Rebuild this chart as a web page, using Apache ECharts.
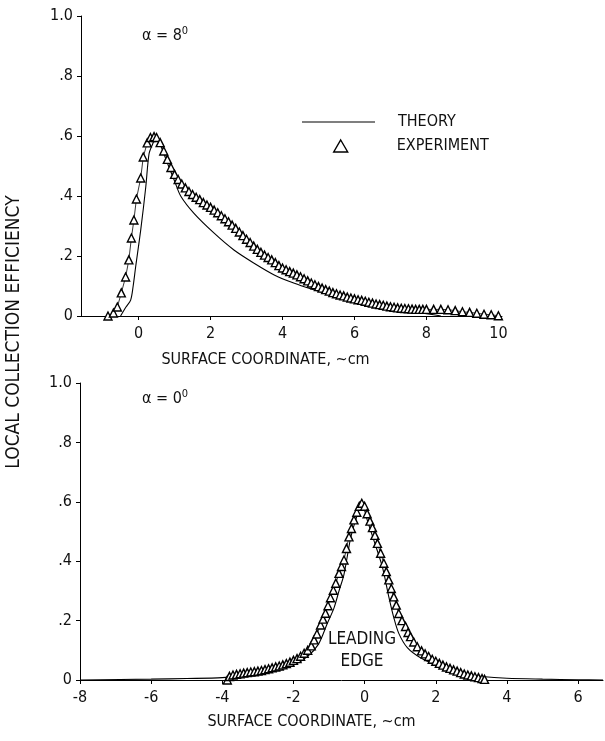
<!DOCTYPE html>
<html>
<head>
<meta charset="utf-8">
<script src="https://cdn.jsdelivr.net/npm/echarts@6/dist/echarts.min.js"></script>
<style>
html,body{margin:0;padding:0;background:#fff;}
#c{width:605px;height:741px;}
</style>
</head>
<body>
<div id="c"></div>
<script>
// ---------- DATA ----------
const topTickLabels = [0, 2, 4, 6, 8, 10];
const bottomTickLabels = [-8, -6, -4, -2, 0, 2, 4, 6];
const yTickLabels = ['0', '.2', '.4', '.6', '.8', '1.0'];

// alpha = 8 deg : theory (line)
const topTheory = [
  [-0.5, 0], [-0.35, 0.03], [-0.22, 0.053], [-0.15, 0.1], [-0.08, 0.165], [0.06, 0.287],
  [0.2, 0.43], [0.29, 0.54], [0.38, 0.57], [0.47, 0.59], [0.55, 0.585], [0.8, 0.51],
  [1.0, 0.45], [1.17, 0.4], [1.54, 0.342], [2.1, 0.276], [2.65, 0.22], [3.21, 0.176],
  [3.77, 0.137], [4.33, 0.109], [4.8, 0.09], [5.3, 0.072], [5.8, 0.058], [6.3, 0.045],
  [6.8, 0.033], [7.3, 0.022], [7.8, 0.012], [8.2, 0.004], [8.4, 0]
];
// alpha = 8 deg : experiment (triangles)
const topExperiment = [
  [-0.85, 0], [-0.7, 0.01], [-0.59, 0.03], [-0.48, 0.077], [-0.36, 0.13], [-0.27, 0.187],
  [-0.2, 0.26], [-0.13, 0.32], [-0.06, 0.39], [0.06, 0.46], [0.13, 0.53], [0.24, 0.577],
  [0.33, 0.595], [0.43, 0.598], [0.5, 0.595], [0.6, 0.578], [0.7, 0.55], [0.8, 0.522],
  [0.9, 0.495], [1.0, 0.472], [1.1, 0.455], [1.2, 0.44], [1.3, 0.427], [1.4, 0.415],
  [1.5, 0.405], [1.6, 0.396], [1.7, 0.388], [1.8, 0.378], [1.9, 0.37], [2.0, 0.362],
  [2.1, 0.353], [2.2, 0.344], [2.3, 0.334], [2.4, 0.324], [2.5, 0.314], [2.6, 0.303],
  [2.7, 0.292], [2.8, 0.28], [2.9, 0.268], [3.0, 0.256], [3.1, 0.245], [3.2, 0.233],
  [3.3, 0.222], [3.4, 0.212], [3.5, 0.203], [3.6, 0.195], [3.7, 0.187], [3.8, 0.178],
  [3.9, 0.168], [4.0, 0.16], [4.1, 0.154], [4.2, 0.148], [4.3, 0.143], [4.4, 0.137],
  [4.5, 0.131], [4.6, 0.124], [4.7, 0.117], [4.8, 0.11], [4.9, 0.104], [5.0, 0.098],
  [5.1, 0.093], [5.2, 0.088], [5.3, 0.083], [5.4, 0.078], [5.5, 0.074], [5.6, 0.07],
  [5.7, 0.067], [5.8, 0.063], [5.9, 0.06], [6.0, 0.057], [6.1, 0.054], [6.2, 0.052],
  [6.3, 0.049], [6.4, 0.046], [6.5, 0.043], [6.6, 0.04], [6.7, 0.038], [6.8, 0.036],
  [6.9, 0.033], [7.0, 0.031], [7.1, 0.029], [7.2, 0.027], [7.3, 0.026], [7.4, 0.025],
  [7.5, 0.024], [7.6, 0.023], [7.7, 0.022], [7.8, 0.022], [7.9, 0.022], [8.0, 0.022],
  [8.2, 0.022], [8.4, 0.022], [8.6, 0.021], [8.8, 0.018], [9.0, 0.014], [9.2, 0.012],
  [9.4, 0.009], [9.6, 0.006], [9.8, 0.004], [10.0, 0.001]
];
// alpha = 0 deg : theory (line)
const bottomTheory = [
  [-8, 0], [-6, 0.003], [-5, 0.005], [-4, 0.008], [-3, 0.018], [-2.5, 0.03], [-2.0, 0.05],
  [-1.6, 0.08], [-1.3, 0.12], [-1.05, 0.19], [-0.86, 0.243], [-0.72, 0.3], [-0.58, 0.356],
  [-0.39, 0.48], [-0.25, 0.539], [-0.11, 0.58], [0.0, 0.57], [0.07, 0.54], [0.26, 0.47],
  [0.5, 0.38], [0.68, 0.28], [0.82, 0.21], [0.96, 0.157], [1.2, 0.109], [1.57, 0.075],
  [2.04, 0.05], [2.7, 0.022], [3.3, 0.012], [4.0, 0.006], [5.0, 0.003], [6.0, 0.001], [6.7, 0]
];
// alpha = 0 deg : experiment (triangles)
const bottomExperiment = [
  [-3.86, 0.0], [-3.8, 0.012], [-3.7, 0.017], [-3.6, 0.019], [-3.5, 0.021], [-3.4, 0.023],
  [-3.3, 0.025], [-3.2, 0.027], [-3.1, 0.028], [-3.0, 0.03], [-2.9, 0.032], [-2.8, 0.035],
  [-2.7, 0.038], [-2.6, 0.041], [-2.5, 0.044], [-2.4, 0.047], [-2.3, 0.051], [-2.2, 0.055],
  [-2.1, 0.06], [-2.0, 0.066], [-1.9, 0.072], [-1.8, 0.08], [-1.7, 0.09], [-1.6, 0.1],
  [-1.5, 0.115], [-1.42, 0.135], [-1.34, 0.155], [-1.24, 0.185], [-1.17, 0.205], [-1.1, 0.225],
  [-1.03, 0.25], [-0.96, 0.277], [-0.88, 0.302], [-0.81, 0.326], [-0.72, 0.359], [-0.65, 0.382],
  [-0.58, 0.404], [-0.51, 0.443], [-0.44, 0.482], [-0.37, 0.51], [-0.3, 0.539], [-0.22, 0.565],
  [-0.15, 0.585], [-0.08, 0.595], [0.0, 0.585], [0.07, 0.56], [0.15, 0.535], [0.22, 0.513],
  [0.29, 0.487], [0.36, 0.46], [0.45, 0.427], [0.54, 0.393], [0.61, 0.365], [0.68, 0.337],
  [0.75, 0.308], [0.82, 0.28], [0.89, 0.252], [0.96, 0.224], [1.05, 0.2], [1.15, 0.18],
  [1.22, 0.16], [1.29, 0.146], [1.38, 0.128], [1.48, 0.112], [1.6, 0.098], [1.7, 0.088],
  [1.8, 0.079], [1.9, 0.07], [2.0, 0.063], [2.1, 0.056], [2.2, 0.05], [2.3, 0.044],
  [2.4, 0.039], [2.5, 0.034], [2.6, 0.03], [2.7, 0.025], [2.8, 0.02], [2.9, 0.017],
  [3.0, 0.014], [3.1, 0.011], [3.2, 0.008], [3.3, 0.005], [3.37, 0.002]
];

// ---------- CHART ----------
const FONT = "'Liberation Sans Narrow', 'DejaVu Sans Condensed', 'Roboto Condensed', sans-serif";
const chart = echarts.init(document.getElementById('c'), null, {renderer: 'canvas'});

function yAxisCfg(gridIndex) {
  return {
    type: 'value', gridIndex: gridIndex, min: 0, max: 1, interval: 0.2,
    axisLine: {show: true, onZero: false, lineStyle: {color: '#000', width: 1}},
    axisTick: {show: true, length: 4, lineStyle: {color: '#000'}},
    splitLine: {show: false},
    axisLabel: {
      color: '#111', fontFamily: FONT, fontSize: 16, margin: 8,
      formatter: function (v) { return yTickLabels[Math.round(v * 5)]; }
    }
  };
}
function xAxisCfg(gridIndex, min, max, ticks, padRight, gap) {
  return {
    type: 'value', gridIndex: gridIndex, min: min, max: max,
    name: 'SURFACE COORDINATE, ~cm', nameLocation: 'middle', nameGap: gap,
    nameTextStyle: {color: '#111', fontFamily: FONT, fontSize: 16, padding: [0, padRight, 0, 0]},
    axisLine: {show: true, onZero: false, lineStyle: {color: '#000', width: 1}},
    axisTick: {show: true, length: 4, customValues: ticks, lineStyle: {color: '#000'}},
    splitLine: {show: false},
    axisLabel: {color: '#111', fontFamily: FONT, fontSize: 16, margin: 10, customValues: ticks}
  };
}

const triangleStyle = {color: '#fff', borderColor: '#000', borderWidth: 1.4};

const option = {
  backgroundColor: '#fff',
  animation: false,
  color: ['#000', '#000'],
  grid: [
    {left: 81, top: 16, width: 421, height: 300},
    {left: 80, top: 383, width: 523, height: 297}
  ],
  xAxis: [
    xAxisCfg(0, -1.6, 10.1, topTickLabels, 52, 36),
    xAxisCfg(1, -8, 6.7, bottomTickLabels, 60, 34)
  ],
  yAxis: [yAxisCfg(0), yAxisCfg(1)],
  legend: [
    {
      left: 297, top: 109, itemWidth: 73, itemHeight: 14, selectedMode: false,
      data: [{name: 'THEORY', icon: 'path://M0,7 L73,7 L73,8.2 L0,8.2 Z', itemStyle: {color: '#000'}}],
      textStyle: {color: '#111', fontFamily: FONT, fontSize: 16, padding: [0, 0, 0, 18]}
    },
    {
      left: 328, top: 133, itemWidth: 14, itemHeight: 12, selectedMode: false,
      data: [{name: 'EXPERIMENT', icon: 'triangle', itemStyle: {color: '#fff', borderColor: '#000', borderWidth: 1.4}}],
      textStyle: {color: '#111', fontFamily: FONT, fontSize: 16, padding: [0, 0, 0, 44]}
    }
  ],
  graphic: [
    {
      type: 'text', left: 142, top: 26,
      style: {
        text: '{a|α = 8}{s|0}', fill: '#111',
        rich: {a: {fontFamily: FONT, fontSize: 16}, s: {fontFamily: FONT, fontSize: 11, padding: [0, 0, 9, 0]}}
      }
    },
    {
      type: 'text', left: 142, top: 389,
      style: {
        text: '{a|α = 0}{s|0}', fill: '#111',
        rich: {a: {fontFamily: FONT, fontSize: 16}, s: {fontFamily: FONT, fontSize: 11, padding: [0, 0, 9, 0]}}
      }
    },
    {
      type: 'text', x: 14, y: 332, rotation: Math.PI / 2,
      style: {
        text: 'LOCAL COLLECTION EFFICIENCY', fill: '#111', fontFamily: FONT, fontSize: 19,
        align: 'center', verticalAlign: 'middle'
      }
    },
    {
      type: 'text', x: 362, y: 651,
      style: {
        text: 'LEADING\nEDGE', fill: '#111', fontFamily: FONT, fontSize: 17, lineHeight: 22,
        align: 'center', verticalAlign: 'middle'
      }
    }
  ],
  series: [
    {
      name: 'THEORY', type: 'line', xAxisIndex: 0, yAxisIndex: 0, data: topTheory,
      smooth: 0.3, symbol: 'none', itemStyle: {color: '#000'}, lineStyle: {color: '#000', width: 1.1}, z: 2
    },
    {
      name: 'EXPERIMENT', type: 'line', xAxisIndex: 0, yAxisIndex: 0, data: topExperiment,
      symbol: 'triangle', symbolSize: 8, showAllSymbol: true,
      lineStyle: {color: '#000', width: 0.8}, itemStyle: triangleStyle, z: 3
    },
    {
      name: 'THEORY', type: 'line', xAxisIndex: 1, yAxisIndex: 1, data: bottomTheory,
      smooth: 0.3, symbol: 'none', itemStyle: {color: '#000'}, lineStyle: {color: '#000', width: 1.1}, z: 2
    },
    {
      name: 'EXPERIMENT', type: 'line', xAxisIndex: 1, yAxisIndex: 1, data: bottomExperiment,
      symbol: 'triangle', symbolSize: 8, showAllSymbol: true,
      lineStyle: {color: '#000', width: 0.8}, itemStyle: triangleStyle, z: 3
    }
  ]
};
chart.setOption(option);
</script>
</body>
</html>
